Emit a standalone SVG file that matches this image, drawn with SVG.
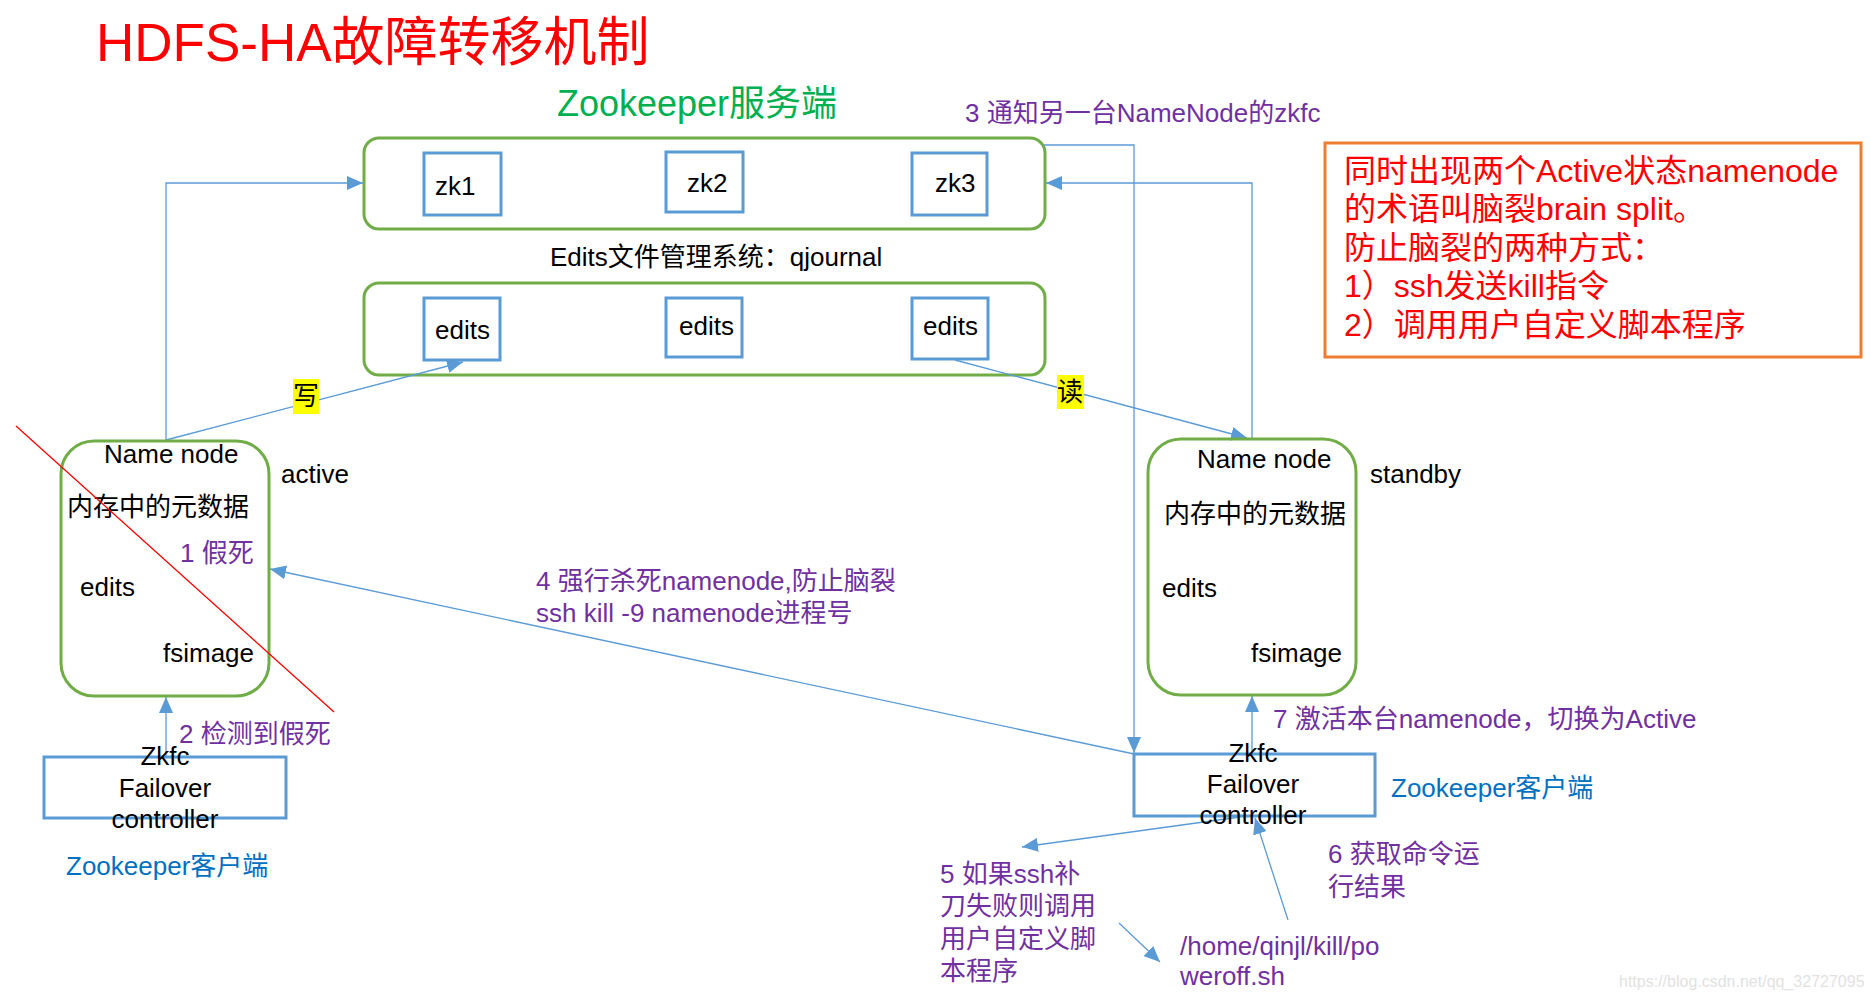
<svg xmlns="http://www.w3.org/2000/svg" width="1871" height="1001" viewBox="0 0 1871 1001">
<style>
text{font-family:"Liberation Sans","Noto Sans CJK SC",sans-serif;font-size:26px;fill:#000}
.grp{fill:none;stroke:#70AD47;stroke-width:3}
.box{fill:#fff;stroke:#5B9BD5;stroke-width:3}
.c{fill:none;stroke:#5B9BD5;stroke-width:1.3}
.pu{fill:#7030A0}
.bl{fill:#0070C0}
.red{fill:#FF0000}
.hl{fill:#FFFF00}
.m{text-anchor:middle}
</style>
<defs>
<marker id="ah" markerUnits="userSpaceOnUse" markerWidth="17" markerHeight="14" refX="16" refY="7" orient="auto">
<path d="M0,0 L16,7 L0,14 z" fill="#5B9BD5"/>
</marker>
</defs>
<rect width="1871" height="1001" fill="#fff"/>

<text id="title" x="96" y="61" class="red" style="font-size:53px">HDFS-HA故障转移机制</text>
<text id="zk-server-label" x="557" y="116" style="font-size:36px;fill:#00B050">Zookeeper服务端</text>

<g id="zk-cluster">
<rect class="grp" x="364" y="138" width="681" height="91" rx="15"/>
<g id="zk1"><rect class="box" x="424" y="153" width="77" height="62"/><text x="435" y="195">zk1</text></g>
<g id="zk2"><rect class="box" x="666" y="152" width="77" height="60"/><text x="687" y="192">zk2</text></g>
<g id="zk3"><rect class="box" x="912" y="153" width="75" height="62"/><text x="935" y="192">zk3</text></g>
</g>

<text id="qjournal-label" x="550" y="266">Edits文件管理系统：qjournal</text>
<g id="qjournal">
<rect class="grp" x="364" y="283" width="681" height="92" rx="15"/>
<g id="edits1"><rect class="box" x="424" y="298" width="76" height="62"/><text x="435" y="339">edits</text></g>
<g id="edits2"><rect class="box" x="666" y="298" width="76" height="59"/><text x="679" y="335">edits</text></g>
<g id="edits3"><rect class="box" x="912" y="298" width="76" height="61"/><text x="923" y="335">edits</text></g>
</g>

<g id="connectors">
<polyline class="c" points="166,440 166,183 363,183" marker-end="url(#ah)"/>
<line class="c" x1="166" y1="440" x2="463" y2="362" marker-end="url(#ah)"/>
<line class="c" x1="955" y1="360" x2="1247" y2="438" marker-end="url(#ah)"/>
<polyline class="c" points="1044,145 1134,145 1134,753" marker-end="url(#ah)"/>
<polyline class="c" points="1252,439 1252,183 1046,183" marker-end="url(#ah)"/>
<line class="c" x1="1252" y1="754" x2="1252" y2="696" marker-end="url(#ah)"/>
<line class="c" x1="166" y1="757" x2="166" y2="697" marker-end="url(#ah)"/>
<line class="c" x1="1134" y1="754" x2="270" y2="569" marker-end="url(#ah)"/>
<line class="c" x1="1240" y1="817" x2="1022" y2="847" marker-end="url(#ah)"/>
<line class="c" x1="1119" y1="923" x2="1160" y2="962" marker-end="url(#ah)"/>
<line class="c" x1="1288" y1="920" x2="1255" y2="818" marker-end="url(#ah)"/>
</g>

<g id="label-write"><rect class="hl" x="293" y="379" width="26" height="35"/><text x="306" y="405" class="m">写</text></g>
<g id="label-read"><rect class="hl" x="1057" y="375" width="27" height="34"/><text x="1070" y="401" class="m">读</text></g>

<g id="namenode-active">
<rect class="grp" x="61" y="441" width="208" height="255" rx="33"/>
<text x="104" y="463">Name node</text>
<text x="67" y="516">内存中的元数据</text>
<text x="180" y="562" class="pu">1 假死</text>
<text x="80" y="596">edits</text>
<text x="163" y="662">fsimage</text>
</g>
<text id="active-label" x="281" y="483">active</text>

<g id="namenode-standby">
<rect class="grp" x="1148" y="439" width="208" height="256" rx="33"/>
<text x="1197" y="468">Name node</text>
<text x="1164" y="523">内存中的元数据</text>
<text x="1162" y="597">edits</text>
<text x="1251" y="662">fsimage</text>
</g>
<text id="standby-label" x="1370" y="483">standby</text>

<g id="zkfc-left">
<rect class="box" x="44" y="757" width="242" height="61" fill="none" style="fill:none"/>
<text x="165" y="765" class="m">Zkfc</text>
<text x="165" y="797" class="m">Failover</text>
<text x="165" y="828" class="m">controller</text>
</g>
<text id="client-left" x="66" y="875" class="bl">Zookeeper客户端</text>

<g id="zkfc-right">
<rect class="box" x="1134" y="754" width="241" height="62" style="fill:none"/>
<text x="1253" y="762" class="m">Zkfc</text>
<text x="1253" y="793" class="m">Failover</text>
<text x="1253" y="824" class="m">controller</text>
</g>
<text id="client-right" x="1391" y="797" class="bl">Zookeeper客户端</text>

<line id="strike" x1="16" y1="426" x2="334" y2="712" stroke="#FF0000" stroke-width="1.3"/>

<text x="965" y="122" class="pu">3 通知另一台NameNode的zkfc</text>
<text x="179" y="743" class="pu">2 检测到假死</text>
<text class="pu"><tspan x="536" y="590">4 强行杀死namenode,防止脑裂</tspan><tspan x="536" y="622">ssh kill -9 namenode进程号</tspan></text>
<text x="1273" y="728" class="pu">7 激活本台namenode，切换为Active</text>
<text class="pu"><tspan x="1328" y="863">6 获取命令运</tspan><tspan x="1328" y="896">行结果</tspan></text>
<text class="pu"><tspan x="940" y="883">5 如果ssh补</tspan><tspan x="940" y="915">刀失败则调用</tspan><tspan x="940" y="948">用户自定义脚</tspan><tspan x="940" y="980">本程序</tspan></text>
<text class="pu"><tspan x="1180" y="955">/home/qinjl/kill/po</tspan><tspan x="1180" y="985">weroff.sh</tspan></text>

<g id="note">
<rect x="1325" y="143" width="536" height="214" fill="#fff" stroke="#ED7D31" stroke-width="3"/>
<text class="red" style="font-size:32px"><tspan x="1344" y="182">同时出现两个Active状态namenode</tspan><tspan x="1344" y="220">的术语叫脑裂brain split。</tspan><tspan x="1344" y="259">防止脑裂的两种方式：</tspan><tspan x="1344" y="297">1）ssh发送kill指令</tspan><tspan x="1344" y="336">2）调用用户自定义脚本程序</tspan></text>
</g>

<text x="1619" y="987" style="font-size:16px;fill:#E2E2E2">https://blog.csdn.net/qq_32727095</text>
</svg>
